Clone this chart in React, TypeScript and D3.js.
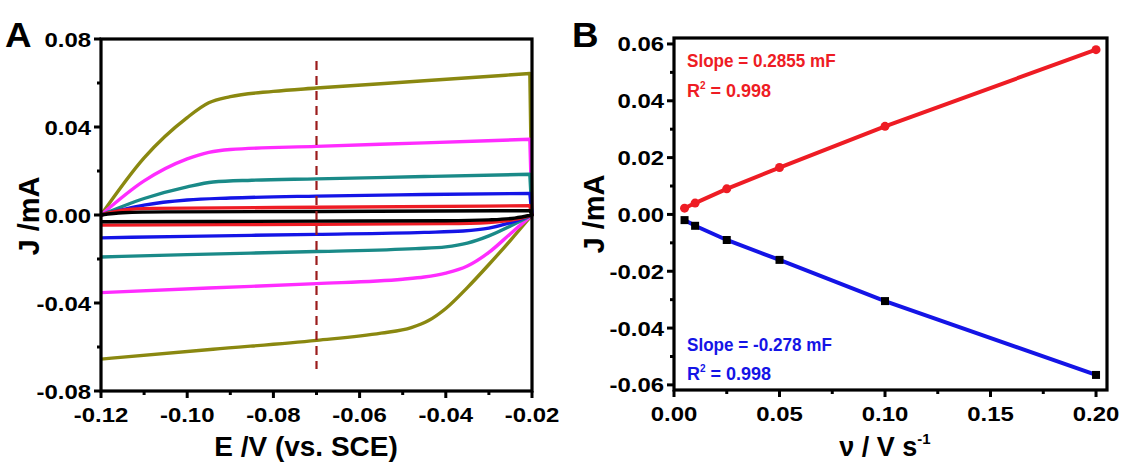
import React from "react";
import * as d3 from "d3";

type Pt = [number, number];

// CV curves (E in V, J in mA), forward scan then reverse scan
const cvScanRates = [5, 10, 25, 50, 100, 200];
const cvColors = ["#000000", "#ee1c24", "#1414e6", "#1a8a88", "#ff2cff", "#8a8810"];

const cv5Fwd: Pt[] = [[-0.12, 0], [-0.115, 0.001], [-0.105, 0.0014], [-0.07, 0.0016], [-0.0205, 0.002]];
const cv5Rev: Pt[] = [[-0.02, 0], [-0.024, -0.0014], [-0.03, -0.0022], [-0.04, -0.0026], [-0.07, -0.0028], [-0.12, -0.0031]];
const cv10Fwd: Pt[] = [[-0.12, 0], [-0.115, 0.0022], [-0.108, 0.003], [-0.07, 0.0035], [-0.0205, 0.0042]];
const cv10Rev: Pt[] = [[-0.02, 0], [-0.024, -0.002], [-0.03, -0.0034], [-0.04, -0.0039], [-0.07, -0.0042], [-0.12, -0.0046]];
const cv25Fwd: Pt[] = [[-0.12, 0], [-0.11, 0.0045], [-0.1, 0.0068], [-0.09, 0.0077], [-0.07, 0.0086], [-0.045, 0.0093], [-0.0205, 0.0098]];
const cv25Rev: Pt[] = [[-0.02, 0], [-0.025, -0.0035], [-0.03, -0.006], [-0.036, -0.0073], [-0.045, -0.0079], [-0.07, -0.0088], [-0.1, -0.0097], [-0.12, -0.0104]];
const cv50Fwd: Pt[] = [[-0.12, 0], [-0.11, 0.0075], [-0.1, 0.0128], [-0.094, 0.015], [-0.085, 0.0158], [-0.07, 0.0164], [-0.045, 0.0175], [-0.0205, 0.0185]];
const cv50Rev: Pt[] = [[-0.02, 0], [-0.025, -0.005], [-0.03, -0.0095], [-0.035, -0.0128], [-0.04, -0.0145], [-0.047, -0.0153], [-0.07, -0.0166], [-0.1, -0.018], [-0.12, -0.0191]];
const cv100Fwd: Pt[] = [[-0.12, 0], [-0.11, 0.0155], [-0.1, 0.0255], [-0.095, 0.0285], [-0.09, 0.0298], [-0.07, 0.0312], [-0.045, 0.0328], [-0.0205, 0.0344]];
const cv100Rev: Pt[] = [[-0.02, 0], [-0.025, -0.0085], [-0.03, -0.017], [-0.035, -0.0232], [-0.04, -0.0264], [-0.045, -0.0282], [-0.05, -0.0292], [-0.07, -0.0312], [-0.095, -0.0332], [-0.12, -0.0353]];
const cv200Fwd: Pt[] = [[-0.12, 0], [-0.11, 0.026], [-0.1, 0.0443], [-0.095, 0.051], [-0.09, 0.0538], [-0.08, 0.0562], [-0.07, 0.0577], [-0.045, 0.061], [-0.0205, 0.0643]];
const cv200Rev: Pt[] = [[-0.02, 0], [-0.025, -0.0115], [-0.03, -0.0225], [-0.035, -0.033], [-0.04, -0.0425], [-0.044, -0.048], [-0.048, -0.0512], [-0.055, -0.0537], [-0.07, -0.057], [-0.094, -0.061], [-0.12, -0.0655]];

const cvForward = [cv5Fwd, cv10Fwd, cv25Fwd, cv50Fwd, cv100Fwd, cv200Fwd];
const cvReverse = [cv5Rev, cv10Rev, cv25Rev, cv50Rev, cv100Rev, cv200Rev];
const markerE = -0.07;

// panel B: current at -0.07 V vs scan rate
const scanRate = [0.005, 0.01, 0.025, 0.05, 0.1, 0.2];
const anodicJ = [0.0022, 0.004, 0.009, 0.0165, 0.031, 0.058];
const cathodicJ = [-0.002, -0.004, -0.009, -0.016, -0.0305, -0.0565];

const aXTicks = [-0.12, -0.1, -0.08, -0.06, -0.04, -0.02];
const aXLabels = ["-0.12", "-0.10", "-0.08", "-0.06", "-0.04", "-0.02"];
const aYTicks = [0.08, 0.04, 0, -0.04, -0.08];
const aYLabels = ["0.08", "0.04", "0.00", "-0.04", "-0.08"];
const bXTicks = [0, 0.05, 0.1, 0.15, 0.2];
const bXLabels = ["0.00", "0.05", "0.10", "0.15", "0.20"];
const bYTicks = [0.06, 0.04, 0.02, 0, -0.02, -0.04, -0.06];
const bYLabels = ["0.06", "0.04", "0.02", "0.00", "-0.02", "-0.04", "-0.06"];

const FONT = "'Liberation Sans', Arial, sans-serif";
const TICK_FS = 21;
const SX = 1.14;

const Txt = ({ x, y, anchor = "start", fs = TICK_FS, sx = SX, fill = "#000", rotate = 0, children }: any) => (
  <text
    transform={`translate(${x},${y}) scale(${sx},1)${rotate ? ` rotate(${rotate})` : ""}`}
    textAnchor={anchor}
    fontFamily={FONT}
    fontWeight="bold"
    fontSize={fs}
    fill={fill}
  >
    {children}
  </text>
);

const mids = (t: number[]) => t.slice(1).map((v, i) => (v + t[i]) / 2);

const Frame = ({ x, y, xTicks, xLabels, yTicks, yLabels }: any) => {
  const [x0, x1] = x.range();
  const [y0, y1] = y.range();
  const xMinor = mids(xTicks);
  const yMinor = mids(yTicks);
  return (
    <g>
      {xTicks.map((t: number) => (
        <line key={"xt" + t} x1={x(t)} x2={x(t)} y1={y0} y2={y0 + 7} stroke="#000" strokeWidth={3} />
      ))}
      {xMinor.map((t: number) => (
        <line key={"xm" + t} x1={x(t)} x2={x(t)} y1={y0} y2={y0 + 4} stroke="#000" strokeWidth={3} />
      ))}
      {yTicks.map((t: number) => (
        <line key={"yt" + t} x1={x0 - 7} x2={x0} y1={y(t)} y2={y(t)} stroke="#000" strokeWidth={3} />
      ))}
      {yMinor.map((t: number) => (
        <line key={"ym" + t} x1={x0 - 4} x2={x0} y1={y(t)} y2={y(t)} stroke="#000" strokeWidth={3} />
      ))}
      <rect x={x0} y={y1} width={x1 - x0} height={y0 - y1} fill="none" stroke="#000" strokeWidth={3.2} />
      {xTicks.map((t: number, i: number) => (
        <Txt key={"xl" + t} x={x(t)} y={y0 + 31} anchor="middle">{xLabels[i]}</Txt>
      ))}
      {yTicks.map((t: number, i: number) => (
        <Txt key={"yl" + t} x={x0 - 10} y={y(t) + 7.5} anchor="end">{yLabels[i]}</Txt>
      ))}
    </g>
  );
};

export default function App() {
  // panel A
  const ax = d3.scaleLinear().domain([-0.12, -0.02]).range([101, 532]);
  const ay = d3.scaleLinear().domain([-0.08, 0.08]).range([391, 39]);
  const cvLine = d3.line<Pt>().x(d => ax(d[0])).y(d => ay(d[1])).curve(d3.curveMonotoneX);
  const cvPath = (i: number) => cvLine(cvForward[i]) + (cvLine(cvReverse[i]) || "").replace(/^M/, "L");

  // panel B
  const bx = d3.scaleLinear().domain([0, 0.2052]).range([674, 1107]);
  const by = d3.scaleLinear().domain([-0.0618, 0.0621]).range([390, 38]);
  const bLine = d3.line<number>().x((_, i) => bx(scanRate[i])).y(d => by(d));

  return (
    <svg width={1123} height={463} style={{ position: "absolute", left: 0, top: 0, background: "#fff" }}>
      {/* Panel A */}
      <g>
        {cvScanRates.map((r, i) => i).reverse().map(i => (
          <path key={"cv" + cvScanRates[i]} d={cvPath(i)} fill="none" stroke={cvColors[i]} strokeWidth={3.4} strokeLinejoin="round" />
        ))}
        <line x1={ax(markerE)} x2={ax(markerE)} y1={ay(0.07)} y2={ay(-0.07)} stroke="#9b1c1c" strokeWidth={2.2} strokeDasharray="9,6" />
        <Frame x={ax} y={ay} xTicks={aXTicks} xLabels={aXLabels} yTicks={aYTicks} yLabels={aYLabels} />
        <Txt x={5} y={47} fs={35} sx={1.05}>A</Txt>
        <Txt x={306} y={456} anchor="middle" fs={28} sx={1}>E /V (vs. SCE)</Txt>
        <Txt x={39} y={216} anchor="middle" fs={29} sx={1} rotate={-90}>J /mA</Txt>
      </g>

      {/* Panel B */}
      <g>
        <path d={bLine(anodicJ) || ""} fill="none" stroke="#ee1c24" strokeWidth={4} />
        <path d={bLine(cathodicJ) || ""} fill="none" stroke="#1414e6" strokeWidth={4} />
        {anodicJ.map((v, i) => (
          <circle key={"a" + i} cx={bx(scanRate[i])} cy={by(v)} r={4.5} fill="#ee1c24" />
        ))}
        {cathodicJ.map((v, i) => (
          <rect key={"c" + i} x={bx(scanRate[i]) - 4} y={by(v) - 4} width={8} height={8} fill="#000" />
        ))}
        <Frame x={bx} y={by} xTicks={bXTicks} xLabels={bXLabels} yTicks={bYTicks} yLabels={bYLabels} />
        <Txt x={572} y={47} fs={35} sx={1.05}>B</Txt>
        <Txt x={687} y={67} fs={18} sx={0.95} fill="#ee1c24">Slope = 0.2855 mF</Txt>
        <text x={687} y={97} fontFamily={FONT} fontWeight="bold" fontSize={18} fill="#ee1c24">
          R<tspan fontSize={10} dy={-8}>2</tspan><tspan dy={8}> = 0.998</tspan>
        </text>
        <Txt x={687} y={351} fs={18} sx={0.95} fill="#1414e6">Slope = -0.278 mF</Txt>
        <text x={687} y={380} fontFamily={FONT} fontWeight="bold" fontSize={18} fill="#1414e6">
          R<tspan fontSize={10} dy={-8}>2</tspan><tspan dy={8}> = 0.998</tspan>
        </text>
        <text x={885} y={456} textAnchor="middle" fontFamily={FONT} fontWeight="bold" fontSize={27}>
          ν / V s<tspan fontSize={15} dy={-12}>-1</tspan>
        </text>
        <Txt x={604} y={214} anchor="middle" fs={29} sx={1} rotate={-90}>J /mA</Txt>
      </g>
    </svg>
  );
}
